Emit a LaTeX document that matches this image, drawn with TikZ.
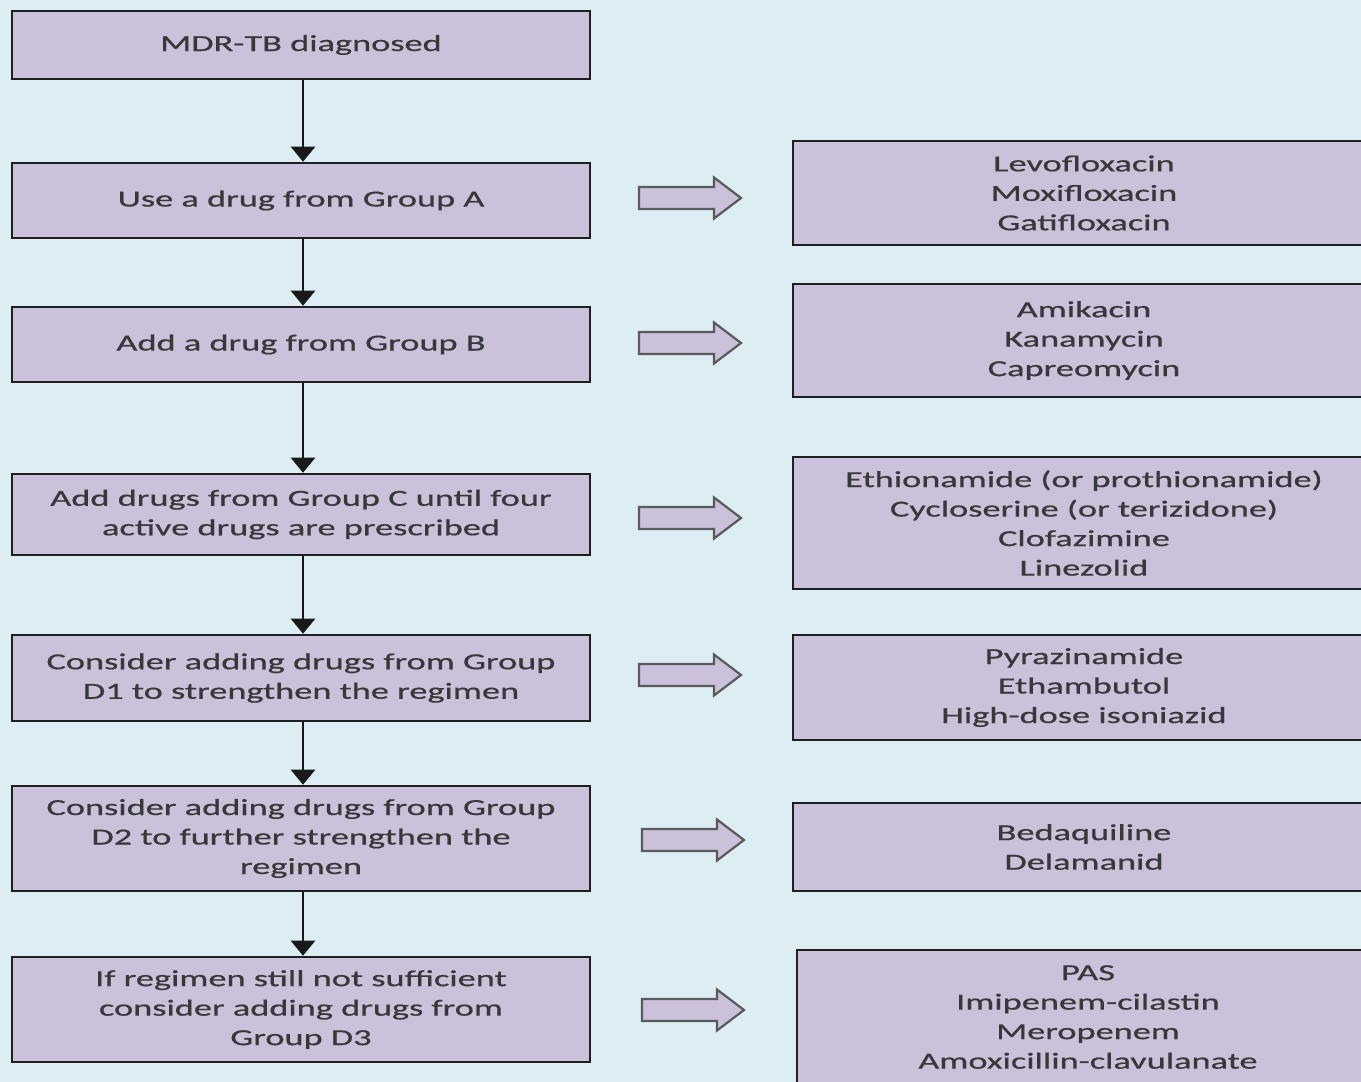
\documentclass[tikz,border=0pt]{standalone}
\usepackage{fontspec}
\setmainfont{Carlito}[FakeStretch=1.58,FakeBold=0.6]
\usetikzlibrary{arrows.meta}
\definecolor{bg}{HTML}{DCEEF4}
\definecolor{boxfill}{HTML}{CBC1DB}
\definecolor{txt}{HTML}{383838}
\definecolor{arrline}{HTML}{5A5A5A}
\begin{document}
\begin{tikzpicture}[x=1pt,y=-1pt,
  base/.style={draw=black!88, line width=2.6pt, fill=boxfill, text=txt, align=center,
    font=\fontsize{23}{29.5}\selectfont, inner sep=0pt},
  stepbox/.style={base, minimum width=578pt},
  drugbox/.style={base, minimum width=582pt},
  vline/.style={line width=2.6pt, black!90, -{Triangle[width=24pt,length=15pt]}},
  blockarr/.pic={\draw[draw=arrline, line width=2.2pt, fill=boxfill, line join=miter]
      (-51,-11) -- (24,-11) -- (24,-20.5) -- (51,0) -- (24,20.5) -- (24,11) -- (-51,11) -- cycle;}]
\fill[bg] (0,0) rectangle (1361,1082);
\useasboundingbox (0,0) rectangle (1361,1082);

\node[stepbox, minimum height=68pt]  (b1) at (301,45)   {MDR-TB diagnosed};
\node[stepbox, minimum height=75pt]  (b2) at (301,200.5) {Use a drug from Group A};
\node[stepbox, minimum height=75pt]  (b3) at (301,344.5) {Add a drug from Group B};
\node[stepbox, minimum height=81pt]  (b4) at (301,514.5) {Add drugs from Group C until four\\active drugs are prescribed};
\node[stepbox, minimum height=86pt]  (b5) at (301,678)  {Consider adding drugs from Group\\D1 to strengthen the regimen};
\node[stepbox, minimum height=105pt] (b6) at (301,838.5) {Consider adding drugs from Group\\D2 to further strengthen the\\regimen};
\node[stepbox, minimum height=105pt] (b7) at (301,1009.5) {If regimen still not sufficient\\consider adding drugs from\\Group D3};

\draw[vline] ([xshift=2pt]b1.south) -- ([xshift=2pt]b2.north);
\draw[vline] ([xshift=2pt]b2.south) -- ([xshift=2pt]b3.north);
\draw[vline] ([xshift=2pt]b3.south) -- ([xshift=2pt]b4.north);
\draw[vline] ([xshift=2pt]b4.south) -- ([xshift=2pt]b5.north);
\draw[vline] ([xshift=2pt]b5.south) -- ([xshift=2pt]b6.north);
\draw[vline] ([xshift=2pt]b6.south) -- ([xshift=2pt]b7.north);

\node[drugbox, minimum height=104pt] (d1) at (1084,193) {Levofloxacin\\Moxifloxacin\\Gatifloxacin};
\node[drugbox, minimum height=113pt] (d2) at (1084,340.5) {Amikacin\\Kanamycin\\Capreomycin};
\node[drugbox, minimum height=132pt] (d3) at (1084,523) {Ethionamide (or prothionamide)\\Cycloserine (or terizidone)\\Clofazimine\\Linezolid};
\node[drugbox, minimum height=105pt] (d4) at (1084,687.5) {Pyrazinamide\\Ethambutol\\High-dose isoniazid};
\node[drugbox, minimum height=88pt]  (d5) at (1084,847) {Bedaquiline\\Delamanid};
\node[drugbox, minimum height=150pt] (d6) at (1088,1025) {};
\node[text=txt, align=center, font=\fontsize{23}{29.5}\selectfont, inner sep=0pt] (d6t) at (1088,1017) {PAS\\Imipenem-cilastin\\Meropenem\\Amoxicillin-clavulanate};

\pic at (690,198) {blockarr};
\pic at (690,343) {blockarr};
\pic at (690,518) {blockarr};
\pic at (690,675) {blockarr};
\pic at (693,840) {blockarr};
\pic at (693,1010) {blockarr};
\end{tikzpicture}
\end{document}
